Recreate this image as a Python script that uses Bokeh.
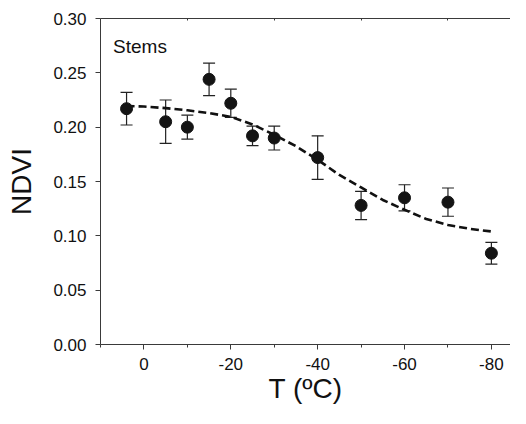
from bokeh.plotting import figure
from bokeh.models import (Range1d, FixedTicker, LinearAxis, Whisker, TeeHead,
                          ColumnDataSource, Label, NumeralTickFormatter,
                          CustomJSTickFormatter)
from bokeh.embed import file_html
from bokeh.resources import INLINE

# Data
temp = [4, -5, -10, -15, -20, -25, -30, -40, -50, -60, -70, -80]
ndvi = [0.217, 0.205, 0.200, 0.244, 0.222, 0.192, 0.190, 0.172, 0.128, 0.135, 0.131, 0.084]
err = [0.015, 0.020, 0.011, 0.015, 0.013, 0.009, 0.011, 0.020, 0.013, 0.012, 0.013, 0.010]

fit_t = [4, 0, -5, -10, -15, -20, -25, -30, -35, -40, -45, -50, -55, -60, -65, -70, -75, -80]
fit_ndvi = [0.2195, 0.219, 0.2175, 0.2155, 0.213, 0.2095, 0.2025, 0.193, 0.1825, 0.170,
            0.156, 0.1445, 0.133, 0.124, 0.1155, 0.110, 0.1065, 0.104]

x_major = [0, -20, -40, -60, -80]
x_minor = [10, -10, -30, -50, -70]
y_major = [0.0, 0.05, 0.10, 0.15, 0.20, 0.25, 0.30]

FONT = "Liberation Sans"
AXC = "#3a3a3a"
TXT = "#111111"

src = ColumnDataSource(data=dict(
    t=temp, v=ndvi,
    lo=[a - b for a, b in zip(ndvi, err)],
    hi=[a + b for a, b in zip(ndvi, err)],
))

W, H = 510, 408
p = figure(width=W, height=H, x_range=Range1d(10, -84.4), y_range=Range1d(0, 0.30),
           output_backend="svg", toolbar_location=None,
           min_border_left=100, min_border_top=18, min_border_right=0, min_border_bottom=64)
p.outline_line_color = None
p.xgrid.visible = False
p.ygrid.visible = False
p.background_fill_color = "white"
p.border_fill_color = "white"

# x axis
xa = p.xaxis[0]
xa.ticker = FixedTicker(ticks=x_major, minor_ticks=x_minor)
xa.formatter = CustomJSTickFormatter(code="return tick.toFixed(0);")
xa.axis_label = "T (ºC)"
xa.axis_label_text_font = FONT
xa.axis_label_text_font_size = "28px"
xa.axis_label_text_font_style = "normal"
xa.axis_label_text_color = TXT
xa.axis_label_standoff = 0
xa.major_label_text_font = FONT
xa.major_label_text_font_size = "17px"
xa.major_label_text_color = TXT
xa.major_label_standoff = 8
xa.major_tick_out = 5
xa.major_tick_in = 0
xa.minor_tick_out = 3
xa.minor_tick_in = 0
xa.axis_line_color = AXC
xa.major_tick_line_color = AXC
xa.minor_tick_line_color = AXC

# y axis
ya = p.yaxis[0]
ya.ticker = FixedTicker(ticks=y_major, minor_ticks=[])
ya.formatter = NumeralTickFormatter(format="0.00")
ya.axis_label = "NDVI"
ya.axis_label_text_font = FONT
ya.axis_label_text_font_size = "28px"
ya.axis_label_text_font_style = "normal"
ya.axis_label_text_color = TXT
ya.axis_label_standoff = 13
ya.major_label_text_font = FONT
ya.major_label_text_font_size = "17px"
ya.major_label_text_color = TXT
ya.major_label_standoff = 9
ya.major_tick_out = 5
ya.major_tick_in = 0
ya.minor_tick_line_color = None
ya.axis_line_color = AXC
ya.major_tick_line_color = AXC

# top border axis with small inner minor ticks
top = LinearAxis(ticker=FixedTicker(ticks=[], minor_ticks=x_minor[1:]),
                 major_label_text_font_size="0px", axis_line_color=AXC,
                 minor_tick_in=2, minor_tick_out=0, minor_tick_line_color=AXC,
                 major_tick_line_color=None, major_tick_out=0, major_label_standoff=0)
p.add_layout(top, "above")

# fitted curve
p.line(fit_t, fit_ndvi, line_color="#111111", line_width=2.6, line_dash="8 4")

# error bars
wh = Whisker(source=src, base="t", lower="lo", upper="hi", dimension="height",
             line_color="#222222", line_width=1.2,
             upper_head=TeeHead(size=12, line_color="#222222", line_width=1.2),
             lower_head=TeeHead(size=12, line_color="#222222", line_width=1.2))
p.add_layout(wh)

# points
p.scatter("t", "v", source=src, size=12, fill_color="#141414", line_color="#141414")

p.add_layout(Label(x=7.1, y=0.274, text="Stems", text_font=FONT, text_font_size="19px",
                   text_color=TXT, text_baseline="alphabetic"))

open("out.html", "w").write(file_html(p, INLINE))
